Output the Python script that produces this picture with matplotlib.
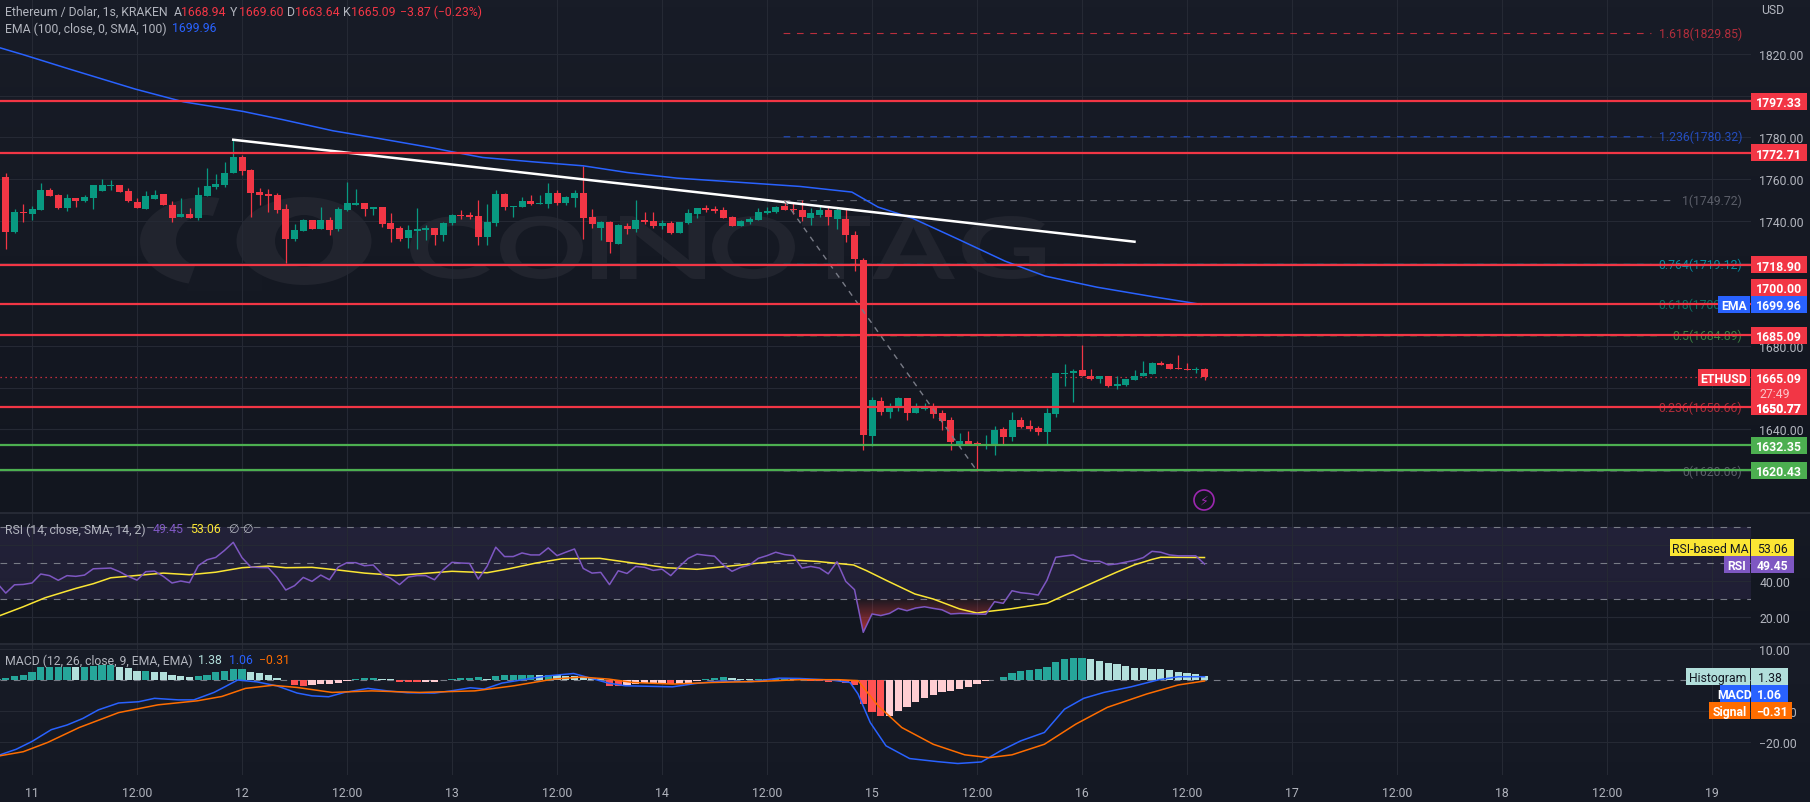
import matplotlib
matplotlib.use("Agg")
import matplotlib.pyplot as plt
import numpy as np
from matplotlib.patches import Rectangle, Circle, Ellipse, Polygon, PathPatch
from matplotlib.path import Path
from matplotlib.textpath import TextPath
from matplotlib.font_manager import FontProperties
from matplotlib.transforms import Affine2D

plt.rcParams['font.family'] = ['Roboto', 'DejaVu Sans']

W, H = 1810, 803
PLOT_W = 1751

# hours since the 11th, one candle per hour
hours = list(range(-4, 135))
open_ = [1734.4, 1761.0, 1734.6, 1744.2, 1743.2, 1745.3, 1754.7, 1752.3, 1746.1, 1750.9, 1749.4, 1750.9, 1754.2, 1756.6, 1757.1, 1754.2, 1749.0, 1745.6, 1750.4, 1752.8, 1747.5, 1741.8, 1743.2, 1741.3, 1751.8, 1756.2, 1757.1, 1762.9, 1770.6, 1764.3, 1753.8, 1752.8, 1752.3, 1745.6, 1731.2, 1735.0, 1740.3, 1736.0, 1740.3, 1736.0, 1745.1, 1747.5, 1748.5, 1745.6, 1746.6, 1738.9, 1736.5, 1731.7, 1735.0, 1735.5, 1736.5, 1733.1, 1738.9, 1742.7, 1742.7, 1742.3, 1732.2, 1738.9, 1752.8, 1746.6, 1746.6, 1749.5, 1748.0, 1748.0, 1753.3, 1748.5, 1750.9, 1753.3, 1741.8, 1736.5, 1739.4, 1728.8, 1737.5, 1736.0, 1740.3, 1739.9, 1737.5, 1738.9, 1734.1, 1738.9, 1743.2, 1746.1, 1745.6, 1745.1, 1741.8, 1737.5, 1739.4, 1740.3, 1743.7, 1744.2, 1747.1, 1745.6, 1745.1, 1741.5, 1743.0, 1745.0, 1741.0, 1741.0, 1733.0, 1721.0, 1636.7, 1653.5, 1648.3, 1650.2, 1655.0, 1647.8, 1649.7, 1650.7, 1647.8, 1644.4, 1632.9, 1634.3, 1633.4, 1632.4, 1631.9, 1640.1, 1636.3, 1644.4, 1641.5, 1640.6, 1638.7, 1647.3, 1666.5, 1667.0, 1668.4, 1665.5, 1664.1, 1665.5, 1660.7, 1661.2, 1663.6, 1665.5, 1666.5, 1671.8, 1671.3, 1669.4, 1668.9, 1668.4, 1668.9]
high = [1761.2, 1762.9, 1745.6, 1748.0, 1746.9, 1758.1, 1755.8, 1752.8, 1752.8, 1750.9, 1752.6, 1757.1, 1760.0, 1759.5, 1757.1, 1755.7, 1750.9, 1754.2, 1754.7, 1752.8, 1749.4, 1750.9, 1746.1, 1756.2, 1765.3, 1762.4, 1768.2, 1778.9, 1771.5, 1764.8, 1755.7, 1755.2, 1753.3, 1748.0, 1738.4, 1740.8, 1740.3, 1746.6, 1741.8, 1746.6, 1758.6, 1755.2, 1748.5, 1746.6, 1746.6, 1743.7, 1737.4, 1737.9, 1746.1, 1737.9, 1736.5, 1739.4, 1743.2, 1745.1, 1744.2, 1749.9, 1748.0, 1754.7, 1753.3, 1747.1, 1751.4, 1752.3, 1752.3, 1758.1, 1754.7, 1751.9, 1754.7, 1766.1, 1745.6, 1739.9, 1739.9, 1738.4, 1738.9, 1749.9, 1744.2, 1744.2, 1740.3, 1739.9, 1739.4, 1745.6, 1746.1, 1747.5, 1747.1, 1746.6, 1742.3, 1740.3, 1741.8, 1746.1, 1746.6, 1747.1, 1749.9, 1748.5, 1750.0, 1746.0, 1747.0, 1747.0, 1746.0, 1746.0, 1735.0, 1722.0, 1655.5, 1655.5, 1652.6, 1655.5, 1655.0, 1652.6, 1652.6, 1652.6, 1649.2, 1645.9, 1638.2, 1639.1, 1634.3, 1637.2, 1641.5, 1641.1, 1648.3, 1645.9, 1644.4, 1641.5, 1650.2, 1667.0, 1671.3, 1668.9, 1680.4, 1668.9, 1665.5, 1665.5, 1665.5, 1664.1, 1668.4, 1672.7, 1672.3, 1672.7, 1671.8, 1675.6, 1671.8, 1669.9, 1669.6]
low = [1733.3, 1726.7, 1734.1, 1739.5, 1740.5, 1745.0, 1751.8, 1745.6, 1744.8, 1746.7, 1749.0, 1745.6, 1754.2, 1754.7, 1753.8, 1749.0, 1746.1, 1745.6, 1750.4, 1747.5, 1739.4, 1741.8, 1741.3, 1740.3, 1751.8, 1755.2, 1756.2, 1762.9, 1761.9, 1741.8, 1747.5, 1744.2, 1743.7, 1720.0, 1730.2, 1735.0, 1736.0, 1736.0, 1733.1, 1735.0, 1744.6, 1747.5, 1742.2, 1742.7, 1737.0, 1729.8, 1730.2, 1726.9, 1726.4, 1730.7, 1728.3, 1730.2, 1737.9, 1740.8, 1740.8, 1728.3, 1728.3, 1737.5, 1745.1, 1741.8, 1746.6, 1747.5, 1748.0, 1746.1, 1747.5, 1747.5, 1746.6, 1731.2, 1736.5, 1730.7, 1724.5, 1728.8, 1733.6, 1734.6, 1738.4, 1736.5, 1736.0, 1733.6, 1734.1, 1738.4, 1741.3, 1744.2, 1743.7, 1741.3, 1737.5, 1737.5, 1738.4, 1740.3, 1743.2, 1743.7, 1745.1, 1743.2, 1740.0, 1738.0, 1742.0, 1738.0, 1736.0, 1730.0, 1716.0, 1630.0, 1631.9, 1646.8, 1645.4, 1648.7, 1644.4, 1647.8, 1649.2, 1645.4, 1639.6, 1630.0, 1631.5, 1632.9, 1620.1, 1630.5, 1627.6, 1632.9, 1634.3, 1640.6, 1639.1, 1637.2, 1632.4, 1645.9, 1660.7, 1653.1, 1665.5, 1663.6, 1662.2, 1660.3, 1659.3, 1660.7, 1663.6, 1665.5, 1666.5, 1670.8, 1668.9, 1668.9, 1668.4, 1667.0, 1663.6]
close = [1760.9, 1734.7, 1744.2, 1743.8, 1745.6, 1754.7, 1751.8, 1746.1, 1750.9, 1749.6, 1751.4, 1757.1, 1757.1, 1757.1, 1753.8, 1749.4, 1746.1, 1751.8, 1752.3, 1747.5, 1741.3, 1743.2, 1741.3, 1752.3, 1756.6, 1757.6, 1762.9, 1770.6, 1763.8, 1753.3, 1752.3, 1751.8, 1745.1, 1731.2, 1735.5, 1740.3, 1736.0, 1740.3, 1735.5, 1745.6, 1748.5, 1748.5, 1745.6, 1746.6, 1738.4, 1736.0, 1731.2, 1735.5, 1736.0, 1736.5, 1733.1, 1738.9, 1742.7, 1742.3, 1741.8, 1732.2, 1739.4, 1752.8, 1746.6, 1747.1, 1749.5, 1748.0, 1748.5, 1753.3, 1748.5, 1751.4, 1753.3, 1741.3, 1738.4, 1739.4, 1729.8, 1737.9, 1736.0, 1740.3, 1739.4, 1737.5, 1738.9, 1734.1, 1739.4, 1743.7, 1746.1, 1745.1, 1744.7, 1741.3, 1737.5, 1739.9, 1740.8, 1744.2, 1744.7, 1746.6, 1745.1, 1745.1, 1742.0, 1744.0, 1745.0, 1742.0, 1745.0, 1733.0, 1721.5, 1637.2, 1654.0, 1648.3, 1650.7, 1655.0, 1647.8, 1650.2, 1651.1, 1647.3, 1643.9, 1633.9, 1634.3, 1632.9, 1631.9, 1632.9, 1639.6, 1636.3, 1644.4, 1641.1, 1640.1, 1638.7, 1647.8, 1667.0, 1667.0, 1667.9, 1665.5, 1664.1, 1665.5, 1660.7, 1661.7, 1664.1, 1665.5, 1667.0, 1671.8, 1670.8, 1668.9, 1668.9, 1668.4, 1668.9, 1665.09]

ema_hours = [-3.66, -1.0, 4.2, 11.8, 17.3, 24.1, 28.7, 34.4, 39.4, 45.8, 47.8, 51.5, 57.3, 63, 68, 73.7, 80.1, 87.8, 93.7, 96.7, 100.6, 105.8, 111.2, 115.8, 121.7, 128.3, 133.6]
ema_vals = [1823, 1819.7, 1812.9, 1803.2, 1797.1, 1792.5, 1788.5, 1783.2, 1779.7, 1775, 1773.3, 1770.4, 1768.3, 1766.4, 1763.2, 1760.5, 1758.7, 1756.5, 1753.8, 1746.6, 1741.3, 1731.3, 1720.7, 1713.5, 1708.2, 1703.5, 1699.96]

trend_hours = [23, 126]
trend_vals = [1778.9, 1730]
fib_diag_hours = [86, 108]
fib_diag_vals = [1749.72, 1620.06]

red_levels = [1797.33, 1772.71, 1718.90, 1700.00, 1685.09, 1650.77]
green_levels = [1632.35, 1620.43]
last_price = 1665.09

fib_ratios = ['1.618', '1.236', '1', '0.764', '0.618', '0.5', '0.236', '0']
fib_prices = [1829.85, 1780.32, 1749.72, 1719.12, 1700.19, 1684.89, 1650.66, 1620.06]
fib_colors = ['#f23645', '#2962ff', '#787b86', '#00bcd4', '#089981', '#4caf50', '#f23645', '#787b86']

rsi = [38.9, 33.3, 37.9, 38.1, 38.9, 43.9, 43.0, 40.4, 43.0, 42.6, 43.3, 46.8, 47.0, 47.2, 45.2, 42.6, 40.5, 45.2, 45.5, 42.6, 38.9, 40.0, 39.1, 48.5, 51.8, 53.1, 57.0, 61.5, 53.0, 47.8, 47.5, 47.4, 42.0, 35.0, 37.4, 42.0, 39.8, 43.3, 40.7, 47.8, 50.2, 50.2, 48.5, 48.9, 43.9, 41.5, 38.0, 42.2, 43.0, 43.0, 40.7, 46.3, 50.4, 50.0, 49.8, 41.1, 48.1, 58.8, 53.6, 53.6, 55.6, 54.5, 54.5, 58.4, 54.1, 56.0, 57.8, 47.0, 44.4, 44.8, 38.0, 45.7, 44.2, 48.1, 47.6, 45.9, 46.6, 43.0, 48.1, 52.6, 54.9, 54.3, 53.8, 48.9, 45.4, 47.6, 48.9, 52.6, 54.1, 56.0, 54.7, 54.1, 47.2, 48.1, 47.2, 44.0, 50.7, 39.8, 35.2, 11.5, 21.7, 20.8, 22.0, 24.8, 23.5, 25.0, 25.7, 24.8, 24.0, 21.7, 22.0, 21.9, 21.7, 21.5, 28.5, 27.6, 34.6, 33.5, 33.0, 32.2, 40.5, 53.2, 53.9, 54.5, 52.0, 51.0, 51.0, 49.0, 49.5, 50.5, 51.5, 53.0, 56.5, 56.0, 54.5, 54.0, 54.0, 54.0, 49.45]

rsi_ma_hours = [-3.66, -1, 1.5, 5, 7, 9, 12, 15, 18, 21, 24, 27, 29, 32, 35, 38, 41.6, 44.5, 48, 52, 54.5, 57.6, 60.6, 64.9, 68.7, 72.5, 76, 80.1, 84, 87.2, 89.7, 91.6, 93.9, 95.4, 97.7, 100.9, 103, 106, 108, 109.1, 111.8, 116, 117.9, 122, 124, 126, 128, 129, 134]
rsi_ma_vals = [20.8, 25.7, 30.7, 35.9, 38.5, 41.8, 43.1, 44.4, 43.5, 44.9, 47.4, 48.3, 47.4, 47.6, 46.1, 44.4, 43.1, 44.1, 45.4, 44.6, 46.8, 50, 52.4, 52.6, 50, 47.4, 46.5, 48.5, 50.4, 51.6, 50.9, 50, 48.9, 45.7, 40.2, 32.8, 30, 24.5, 22.2, 23, 24.5, 27.6, 31.8, 40.7, 45, 49, 52, 53.2, 53.06]

hist = [0.4, 0.75, 1.18, 1.72, 2.58, 4.09, 4.3, 4.3, 4.3, 4.09, 4.3, 4.62, 4.73, 4.73, 4.19, 3.87, 3.01, 3.01, 2.58, 2.47, 1.72, 1.18, 0.86, 1.29, 1.72, 2.47, 2.9, 3.66, 3.7, 2.69, 2.37, 1.5, 0.75, -0.1, -1.72, -1.8, -1.61, -1.4, -1.18, -0.97, -0.22, 0.22, 0.75, 0.8, 0.43, 0.2, -0.65, -0.75, -0.8, -0.54, -0.5, -0.11, 0.22, 0.54, 0.75, 0.97, 0.43, 1.29, 1.61, 1.61, 1.72, 1.75, 1.72, 1.72, 1.5, 1.29, 1.18, 0.86, 0.65, 0.2, -1.83, -1.85, -1.5, -1.29, -1.07, -1.07, -0.86, -1.29, -1.29, -0.86, -0.22, 0.43, 0.65, 0.86, 0.75, 0.4, 0.3, 0.3, 0.3, 0.35, 0.35, 0.3, 0.2, -0.2, -0.4, -0.5, -0.35, -1.1, -1.72, -7.6, -10.2, -11.5, -11.5, -9.9, -8.6, -7.1, -5.7, -4.7, -3.87, -3.44, -2.8, -2.37, -1.29, -0.3, -0.05, 1.07, 2.37, 2.9, 3.33, 3.44, 4.3, 5.8, 6.88, 7.1, 7.2, 6.67, 6.02, 5.59, 5.27, 4.52, 3.87, 3.85, 3.44, 3.4, 3.12, 2.58, 2.26, 2.04, 1.38]

macd_hours = [-3.65, -1.8, 0, 2.2, 4, 5.8, 7.6, 9.9, 12.2, 14, 16.7, 18.5, 20.8, 22.1, 23.5, 25.7, 28, 30.3, 32, 33.9, 35.7, 38.4, 40.6, 42.9, 46, 47.9, 50.1, 51.7, 53.7, 56.5, 59.2, 61.9, 63.7, 65.9, 67.8, 73.2, 75.9, 78.6, 82.2, 85.4, 87.7, 91.3, 93.5, 94.4, 95.8, 97.6, 100.3, 103.5, 105.8, 108.5, 110.7, 113, 115.7, 118, 120.2, 122.5, 125.6, 128.8, 131, 134]
macd_vals = [-24.1, -22.3, -19.8, -16.0, -14.5, -12.4, -9.6, -7.4, -7.0, -5.9, -6.4, -6.4, -4.0, -2.1, 0.0, -0.6, -1.9, -4.2, -5.1, -5.4, -4.0, -2.7, -3.5, -4.1, -4.2, -3.5, -2.5, -2.9, -1.0, 0.3, 1.4, 2.1, 0.7, -1.0, -1.85, -2.2, -1.1, -0.35, -0.55, 0.6, 0.5, 0.0, -0.8, -4.5, -13.7, -21.2, -25.3, -26.3, -26.9, -26.4, -22.8, -19.6, -16.9, -9.4, -5.9, -4.0, -2.2, 0.1, 1.05, 1.06]
signal_hours = [-3.65, -1, 1.8, 5.4, 9.9, 14.4, 18.9, 21.7, 24.4, 27.5, 30.3, 34.3, 38.8, 44.3, 50.6, 55.1, 59.6, 62.8, 65.9, 68.7, 73.2, 77.7, 83.1, 87.7, 92.2, 94.4, 96.7, 99.4, 103, 106.6, 109.4, 112, 115.7, 119.3, 122.9, 127.4, 131, 134]
signal_vals = [-24.4, -23.1, -20.1, -15.3, -10.5, -8.0, -6.7, -5.3, -2.7, -1.7, -2.4, -4.0, -3.5, -4.0, -3.5, -1.85, 0.3, 0.95, 0.3, -0.8, -1.3, -0.8, -0.45, 0.1, 0.1, -0.2, -8.3, -15.3, -20.7, -24.1, -25.0, -24.1, -20.7, -14.2, -8.8, -4.5, -1.6, -0.31]

time_ticks = list(range(0, 204, 12))
time_labels = ['11', '12:00', '12', '12:00', '13', '12:00', '14', '12:00', '15', '12:00', '16', '12:00', '17', '12:00', '18', '12:00', '19']
price_ticks = [1820, 1800, 1780, 1760, 1740, 1720, 1700, 1680, 1660, 1640, 1620]
rsi_ticks = [60, 40, 20]
macd_ticks = [10, -10, -20]

GREEN = '#089981'
RED = '#f23645'
GRID = '#252934'
TXT = '#b2b5be'
BLUE = '#2962ff'
FS = 8.8

fig = plt.figure(figsize=(W / 100, H / 100), dpi=100, facecolor='#161a25')


def pane(top, bottom, zorder=1):
    return fig.add_axes([0, 1 - bottom / H, PLOT_W / W, (bottom - top) / H], zorder=zorder)


# pixel layer behind everything, gradients and the watermark
bg = fig.add_axes([0, 0, 1, 1], zorder=0)
bg.axis('off')
for top, bottom, c1, c2 in [(0, 514, '#181c27', '#12161f'), (514, 645, '#161a25', '#12161f'), (645, H, '#181c27', '#141823')]:
    a = np.array(matplotlib.colors.to_rgb(c1))
    b = np.array(matplotlib.colors.to_rgb(c2))
    grad = np.linspace(a, b, 64)[:, None, :]
    bg.imshow(grad, extent=[0, W, bottom, top], aspect='auto', zorder=0)
bg.set_xlim(0, W)
bg.set_ylim(H, 0)

WM = '#21242e'
HOLE = '#151923'
# logo: a cut ring and a full ring
bg.add_patch(Ellipse((205, 242), 130, 88, color=WM, lw=0, zorder=1))
bg.add_patch(Ellipse((205, 242), 58, 52, color=HOLE, lw=0, zorder=1.1))
bg.add_patch(Polygon([(222, 192), (262, 192), (262, 292), (186, 292)], color=HOLE, lw=0, zorder=1.2))
bg.add_patch(Ellipse((304, 242), 135, 88, color=WM, lw=0, zorder=1.3))
bg.add_patch(Ellipse((304, 242), 58, 52, color=HOLE, lw=0, zorder=1.4))

wm_font = FontProperties(family='Lato', weight='bold')
wm_boxes = [410, 490, 500, 583, 592, 607, 620, 705, 712, 795, 802, 870, 872, 955, 962, 1045]
for i, ch in enumerate('COINOTAG'):
    tp = TextPath((0, 0), ch, size=1, prop=wm_font)
    box = tp.get_extents()
    x0, x1 = wm_boxes[2 * i], wm_boxes[2 * i + 1]
    tr = Affine2D().translate(-box.x0, -box.y0).scale((x1 - x0) / box.width, -63 / box.height).translate(x0, 280)
    bg.add_patch(PathPatch(tp, transform=tr + bg.transData, color=WM, lw=0, zorder=1.5))

ax = pane(0, 514)
ax_rsi = pane(514, 645)
ax_macd = pane(645, 776)

xlim = (-32 / 8.75, (PLOT_W - 32) / 8.75)
for a in (ax, ax_rsi, ax_macd):
    a.patch.set_alpha(0)
    a.set_xlim(*xlim)
    a.set_xticks(time_ticks)
    a.grid(True, color=GRID, lw=0.8, zorder=0)
    a.set_axisbelow(True)
    a.yaxis.tick_right()
    a.tick_params(axis='both', length=0, labelcolor=TXT, labelsize=FS, pad=6)
    for s in a.spines.values():
        s.set_visible(False)
    a.tick_params(axis='x', labelbottom=False)

ax.set_ylim(1599.9, 1846.4)
ax.set_yticks(price_ticks)
ax.set_yticklabels(['%.2f' % p for p in price_ticks])

# candles
hrs = np.array(hours)
opens = np.array(open_)
closes = np.array(close)
up = closes >= opens
colors = [GREEN if u else RED for u in up]
ax.vlines(hrs, low, high, colors=colors, lw=0.9, zorder=3)
heights = np.maximum(np.abs(closes - opens), 0.5)
ax.bar(hrs, heights, bottom=np.minimum(opens, closes), width=0.8, color=colors, lw=0, zorder=3)

ax.plot(ema_hours, ema_vals, color=BLUE, lw=1.1, zorder=4)
ax.plot(trend_hours, trend_vals, color='white', lw=1.8, zorder=4)
ax.plot(fib_diag_hours, fib_diag_vals, color='#787b86', lw=1, ls=(0, (4, 4)), zorder=4)

fib_start = 85.9
for ratio, price, col in zip(fib_ratios, fib_prices, fib_colors):
    label = '%s(%.2f)' % (ratio, price)
    ax.text((1742 - 32) / 8.75, price, label, color=col, alpha=0.7, fontsize=FS, ha='right', va='center', zorder=2)
    # the dashes stop short of the label
    x_end = (1742 - 8 - 5.9 * len(label) - 32) / 8.75
    line, = ax.plot([fib_start, x_end], [price, price], color=col, alpha=0.75, lw=0.8, ls=(0, (6, 6)), zorder=2)
    line.set_snap(False)

for level in red_levels:
    ax.axhline(level, color=RED, lw=1.6, zorder=5)
for level in green_levels:
    ax.axhline(level, color='#4caf50', lw=1.6, zorder=5)
ax.axhline(last_price, color=RED, lw=0.9, ls=(0, (1, 3)), zorder=2)

# RSI pane
ax_rsi.set_ylim(5, 77.8)
ax_rsi.set_yticks(rsi_ticks)
ax_rsi.set_yticklabels(['%.2f' % v for v in rsi_ticks])
ax_rsi.axhspan(30, 70, color='#7e57c2', alpha=0.13, lw=0, zorder=0.5)
for level in [70, 50, 30]:
    ax_rsi.axhline(level, color='#787b86', lw=0.8, ls=(0, (6, 6)), zorder=1)

rsi_arr = np.array(rsi)
below = ax_rsi.fill_between(hrs, rsi_arr, 30, where=rsi_arr < 30, interpolate=True, color='none', lw=0)
shade = np.zeros((64, 1, 4))
shade[:, 0, 0] = 0.95
shade[:, 0, 1] = 0.25
shade[:, 0, 2] = 0.25
shade[:, 0, 3] = np.linspace(0.75, 0.05, 64)
im = ax_rsi.imshow(shade, extent=[xlim[0], xlim[1], 10, 30], origin='lower', aspect='auto', zorder=1.5)
im.set_clip_path(Path.make_compound_path(*below.get_paths()), ax_rsi.transData)
ax_rsi.set_xlim(*xlim)
ax_rsi.set_ylim(5, 77.8)

ax_rsi.plot(rsi_ma_hours, rsi_ma_vals, color='#fbe634', lw=1.1, zorder=3)
ax_rsi.plot(hrs, rsi_arr, color='#7e57c2', lw=1.1, zorder=3)

# MACD pane
ax_macd.set_ylim(-30.6, 11.6)
ax_macd.set_yticks(macd_ticks)
ax_macd.set_yticklabels(['%.2f' % v if v >= 0 else '\u2212%.2f' % -v for v in macd_ticks])
ax_macd.set_xticklabels(time_labels)
ax_macd.tick_params(axis='x', labelbottom=True, pad=8)
ax_macd.axhline(0, color='#787b86', lw=0.8, ls=(0, (6, 6)), zorder=1)

hist_colors = []
for i, v in enumerate(hist):
    prev = hist[i - 1] if i else v
    if v >= 0:
        hist_colors.append('#26a69a' if v >= prev else '#b2dfdb')
    else:
        hist_colors.append('#ffcdd2' if v >= prev else '#ff5252')
ax_macd.bar(hrs, hist, width=0.85, color=hist_colors, lw=0, zorder=2)
ax_macd.plot(macd_hours, macd_vals, color=BLUE, lw=1.1, zorder=3)
ax_macd.plot(signal_hours, signal_vals, color='#ff6d00', lw=1.1, zorder=3)

# pixel layer on top: legends, price tags, separators
fg = fig.add_axes([0, 0, 1, 1], zorder=5)
fg.set_xlim(0, W)
fg.set_ylim(H, 0)
fg.axis('off')
fg.patch.set_alpha(0)

for y in [514, 645]:
    fg.plot([0, W], [y, y], color='#2a2e39', lw=1.2)


def y_of(axis, value):
    return H - axis.transData.transform((0, value))[1]


def tag(x0, x1, yc, text, face, fg_col='white', bold=True, h=17):
    fg.add_patch(Rectangle((x0, yc - h / 2), x1 - x0, h, facecolor=face, lw=0, zorder=6))
    fg.text((x0 + x1) / 2, yc, text, color=fg_col, fontsize=FS, ha='center', va='center_baseline',
            fontweight='bold' if bold else 'normal', zorder=7)


fg.text(1761, 11, 'USD', color=TXT, fontsize=FS, va='center')

for level in red_levels:
    yc = y_of(ax, level)
    if level == 1700.00:
        yc = 288
    tag(1751, 1807, yc, '%.2f' % level, RED)
for level in green_levels:
    tag(1751, 1807, y_of(ax, level), '%.2f' % level, '#4caf50')

tag(1751, 1807, y_of(ax, 1699.96), '1699.96', BLUE)
tag(1718, 1750, y_of(ax, 1699.96), 'EMA', BLUE)
y_last = y_of(ax, last_price)
fg.add_patch(Rectangle((1751, y_last - 8.5), 56, 34, facecolor=RED, lw=0, zorder=6))
fg.text(1779, y_last, '1665.09', color='white', fontsize=FS, fontweight='bold', ha='center', va='center_baseline', zorder=7)
fg.text(1759, y_last + 15, '27:49', color='#fbc5c9', fontsize=FS, va='center_baseline', zorder=7)
tag(1698, 1750, y_last, 'ETHUSD', RED)
tag(1751, 1807, y_of(ax, 1650.77), '1650.77', RED)

# stacked tags in the RSI and MACD panes sit apart from their values
tag(1751, 1794, 548.5, '53.06', '#fbe634', '#131722', False)
tag(1670, 1750, 548.5, 'RSI-based MA', '#fbe634', '#131722', False)
tag(1751, 1794, 565.5, '49.45', '#7e57c2')
tag(1724, 1750, 565.5, 'RSI', '#7e57c2')

tag(1751, 1788, 677.5, '1.38', '#b2dfdb', '#131722', False)
tag(1686, 1750, 677.5, 'Histogram', '#b2dfdb', '#131722', False)
tag(1751, 1788, 694.5, '1.06', BLUE)
tag(1720, 1750, 694.5, 'MACD', BLUE)
tag(1751, 1792, 711.5, '\u22120.31', '#ff6d00')
tag(1709, 1750, 711.5, 'Signal', '#ff6d00')

# header rows
HEAD = '#b2b5be'
LRED = '#f23645'
header_rows = [
    (12, [(5, 'Ethereum / Dolar, 1s, KRAKEN', HEAD), (174, 'A', HEAD), (181, '1668.94', LRED), (230, 'Y', HEAD),
          (239, '1669.60', LRED), (287, 'D', HEAD), (295, '1663.64', LRED), (343, 'K', HEAD), (351, '1665.09', LRED),
          (400, '\u22123.87 (\u22120.23%)', LRED)]),
    (29, [(5, 'EMA (100, close, 0, SMA, 100)', HEAD), (172, '1699.96', BLUE)]),
    (530, [(5, 'RSI (14, close, SMA, 14, 2)', HEAD), (153, '49.45', '#7e57c2'), (190, '53.06', '#fbe634'),
           (228, '\u2205', HEAD), (242, '\u2205', HEAD)]),
    (661, [(5, 'MACD (12, 26, close, 9, EMA, EMA)', HEAD), (198, '1.38', '#b2dfdb'), (229, '1.06', BLUE),
           (259, '\u22120.31', '#ff6d00')]),
]
for y, parts in header_rows:
    for x, s, col in parts:
        fg.text(x, y, s, color=col, fontsize=FS, va='center', zorder=4)

# flash icon
fg.add_patch(Circle((1204, 501), 10, facecolor='none', edgecolor='#9c27b0', lw=1.2))
fg.text(1204, 501, '\u26a1', color='#9c27b0', fontsize=9, ha='center', va='center', family='DejaVu Sans')

fig.savefig('out.png', dpi=100, facecolor=fig.get_facecolor())
